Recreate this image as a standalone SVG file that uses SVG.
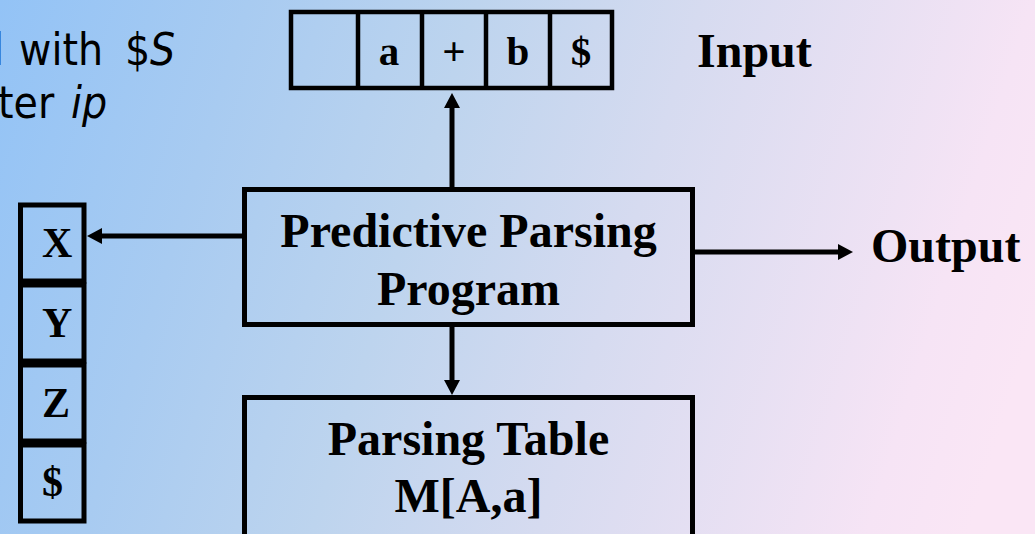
<svg xmlns="http://www.w3.org/2000/svg" width="1035" height="534" viewBox="0 0 1035 534">
  <defs>
    <linearGradient id="bg" gradientUnits="userSpaceOnUse" x1="0" y1="0" x2="1035" y2="321">
      <stop offset="0" stop-color="#93C3F6"/>
      <stop offset="0.22" stop-color="#A8CBF1"/>
      <stop offset="0.42" stop-color="#BDD4EE"/>
      <stop offset="0.62" stop-color="#D6DBF0"/>
      <stop offset="0.91" stop-color="#F6E4F5"/>
      <stop offset="1" stop-color="#FAE6F5"/>
    </linearGradient>
    <marker id="head" markerUnits="userSpaceOnUse" markerWidth="16" markerHeight="16" refX="0" refY="8" orient="auto" viewBox="0 0 16 16">
      <path d="M0,0 L15,8 L0,16 Z" fill="#000"/>
    </marker>
  </defs>
  <style>
    .box { fill: none; stroke: #000; stroke-width: 5; }
    .cell { fill: none; stroke: #000; stroke-width: 4.5; }
    .big { font-family: "Liberation Serif", "Times New Roman", serif; font-weight: bold; font-size: 48px; fill: #000; }
    .sym { font-family: "Liberation Serif", "Times New Roman", serif; font-weight: bold; font-size: 41px; fill: #000; text-anchor: middle; }
    .stk { font-family: "Liberation Serif", "Times New Roman", serif; font-weight: bold; font-size: 42px; fill: #000; }
    .note { font-family: "DejaVu Sans Condensed", "DejaVu Sans", "Liberation Sans", sans-serif; font-size: 44px; fill: #000; }
    .it { font-style: italic; }
    .conn { stroke: #000; stroke-width: 5; fill: none; marker-end: url(#head); }
  </style>

  <rect x="0" y="0" width="1035" height="534" fill="url(#bg)"/>

  <!-- note text, left edge runs off the page -->
  <g id="note">
    <text class="note" x="-7" y="65">l</text>
    <text class="note" x="19" y="65">with</text>
    <text class="note" x="125" y="65">$</text>
    <text class="note it" x="150" y="65">S</text>
    <text class="note" x="-2" y="118">ter</text>
    <text class="note it" x="71" y="118">ip</text>
  </g>

  <!-- input buffer -->
  <g id="input">
    <rect class="cell" x="291" y="12" width="321" height="76"/>
    <line class="cell" x1="358" y1="12" x2="358" y2="88"/>
    <line class="cell" x1="422" y1="12" x2="422" y2="88"/>
    <line class="cell" x1="486" y1="12" x2="486" y2="88"/>
    <line class="cell" x1="550" y1="12" x2="550" y2="88"/>
    <text class="sym" x="389" y="65">a</text>
    <text class="sym" x="454" y="65" font-weight="normal">+</text>
    <text class="sym" x="518" y="65">b</text>
    <text class="sym" x="581" y="65">$</text>
  </g>
  <g id="input-label">
    <text class="big" x="697" y="67">Input</text>
  </g>

  <!-- stack -->
  <g id="stack">
    <rect class="box" x="20.5" y="205" width="63.5" height="76"/>
    <rect class="box" x="20.5" y="285" width="63.5" height="76"/>
    <rect class="box" x="20.5" y="365" width="63.5" height="76"/>
    <rect class="box" x="20.5" y="445" width="63.5" height="76"/>
    <text class="stk" x="42" y="257">X</text>
    <text class="stk" x="42" y="337">Y</text>
    <text class="stk" x="42" y="417">Z</text>
    <text class="stk" x="42" y="496">$</text>
  </g>

  <!-- parser program -->
  <g id="program">
    <rect class="box" x="244.5" y="189.5" width="448" height="135"/>
    <text class="big" x="468.5" y="247" text-anchor="middle">Predictive Parsing</text>
    <text class="big" x="468.5" y="305" text-anchor="middle">Program</text>
  </g>

  <!-- parsing table -->
  <g id="table">
    <rect class="box" x="244.5" y="397.5" width="448" height="200"/>
    <text class="big" x="468.5" y="455" text-anchor="middle">Parsing Table</text>
    <text class="big" x="468.5" y="512" text-anchor="middle">M[A,a]</text>
  </g>

  <g id="output-label">
    <text class="big" x="871" y="262">Output</text>
  </g>

  <!-- connectors -->
  <g id="connectors">
    <line class="conn" x1="452" y1="187" x2="452" y2="108"/>
    <line class="conn" x1="242" y1="236" x2="102" y2="236"/>
    <line class="conn" x1="695" y1="252" x2="838" y2="252"/>
    <line class="conn" x1="452" y1="327" x2="452" y2="380"/>
  </g>
</svg>
